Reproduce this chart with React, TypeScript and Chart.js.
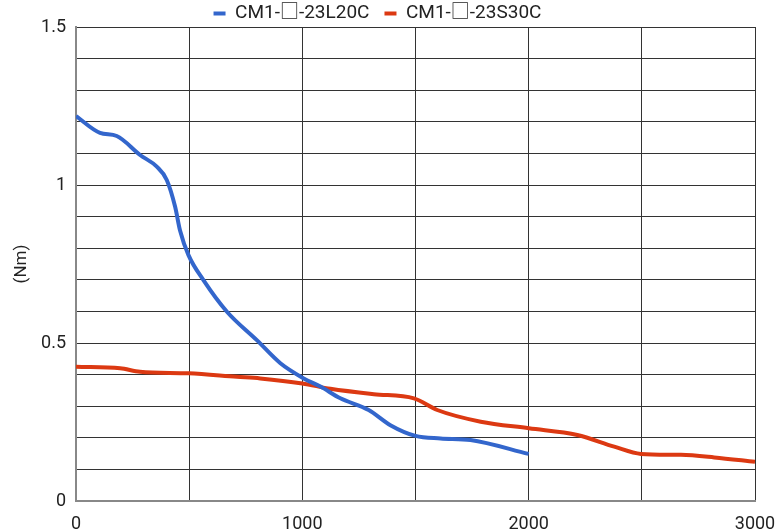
import React, { useEffect, useRef } from "react";
import { Chart, registerables } from "chart.js";

Chart.register(...registerables);

const seriesNames = ["CM1-□-23L20C", "CM1-□-23S30C"];

const speedL20 = [0, 106, 180, 283, 357, 401, 438, 460, 497, 563, 667, 799, 903, 1006, 1080, 1168, 1293, 1389, 1500, 1611, 1743, 2000];
const torqueL20 = [1.218, 1.165, 1.155, 1.095, 1.058, 1.016, 0.931, 0.855, 0.778, 0.699, 0.599, 0.509, 0.436, 0.388, 0.362, 0.325, 0.288, 0.24, 0.206, 0.198, 0.193, 0.149];

const speedS30 = [0, 195, 283, 497, 711, 814, 1000, 1124, 1316, 1493, 1596, 1788, 2001, 2215, 2378, 2496, 2673, 2820, 3000];
const torqueS30 = [0.425, 0.42, 0.409, 0.404, 0.393, 0.388, 0.372, 0.355, 0.338, 0.325, 0.288, 0.251, 0.23, 0.209, 0.172, 0.149, 0.146, 0.138, 0.124];

const xTickLabels = [0, 1000, 2000, 3000];
const yTickLabels = [0, 0.5, 1, 1.5];

const FONT = "Roboto, 'Noto Sans CJK JP', sans-serif";

const legendHeightPlugin = {
  id: "legendHeight",
  beforeInit(chart: any) {
    const legend = chart.legend;
    if (!legend) return;
    const orig = legend.fit;
    legend.fit = function () {
      orig.call(this);
      this.height = 38;
    };
  },
};

export default function App() {
  const ref = useRef<HTMLCanvasElement>(null);
  useEffect(() => {
    const ctx = ref.current!;
    const chart = new Chart(ctx, {
      type: "line",
      data: {
        datasets: [
          {
            label: seriesNames[0],
            data: speedL20.map((x, i) => ({ x, y: torqueL20[i] })),
            borderColor: "#3366cc",
            backgroundColor: "#3366cc",
            borderWidth: 4,
            pointRadius: 0,
            cubicInterpolationMode: "monotone",
          },
          {
            label: seriesNames[1],
            data: speedS30.map((x, i) => ({ x, y: torqueS30[i] })),
            borderColor: "#dc3912",
            backgroundColor: "#dc3912",
            borderWidth: 4,
            pointRadius: 0,
            cubicInterpolationMode: "monotone",
          },
        ],
      },
      plugins: [legendHeightPlugin],
      options: {
        animation: false,
        responsive: true,
        maintainAspectRatio: false,
        layout: { padding: { top: -11, right: 23, left: 0, bottom: 0 } },
        plugins: {
          legend: {
            position: "top",
            labels: {
              usePointStyle: true,
              pointStyle: "line",
              pointStyleWidth: 12,
              color: "#222",
              font: { family: FONT, size: 19 },
              padding: 15,
            },
          },
          tooltip: { enabled: false },
        },
        scales: {
          x: {
            type: "linear",
            min: 0,
            max: 3000,
            afterFit: (s: any) => {
              s.height = 31;
              s.paddingLeft = 0;
              s.paddingRight = 0;
            },
            ticks: {
              stepSize: 500,
              autoSkip: false,
              maxRotation: 0,
              padding: 13,
              color: "#222",
              font: { family: FONT, size: 18 },
              callback: (v: any) => (xTickLabels.includes(Number(v)) ? String(v) : ""),
            },
            grid: { color: "#333", lineWidth: 1, drawTicks: false, tickLength: 0 },
            border: { color: "#888", width: 2 },
          },
          y: {
            min: 0,
            max: 1.5,
            afterFit: (s: any) => {
              s.width = 76;
              s.paddingTop = 0;
              s.paddingBottom = 0;
            },
            ticks: {
              stepSize: 0.1,
              autoSkip: false,
              color: "#222",
              padding: 10,
              font: { family: FONT, size: 18 },
              callback: (v: any) => {
                const n = Math.round(Number(v) * 10) / 10;
                return yTickLabels.includes(n) ? String(n) : "";
              },
            },
            grid: { color: "#333", lineWidth: 1, drawTicks: false, tickLength: 0 },
            border: { color: "#888", width: 2 },
            title: {
              display: true,
              text: "(Nm)",
              color: "#222",
              padding: { top: 12, bottom: 0 },
              font: { family: FONT, size: 17 },
            },
          },
        },
      },
    });
    return () => chart.destroy();
  }, []);
  return (
    <div style={{ position: "fixed", left: 0, top: 0, width: 778, height: 532, background: "#fff" }}>
      <canvas ref={ref} />
    </div>
  );
}
